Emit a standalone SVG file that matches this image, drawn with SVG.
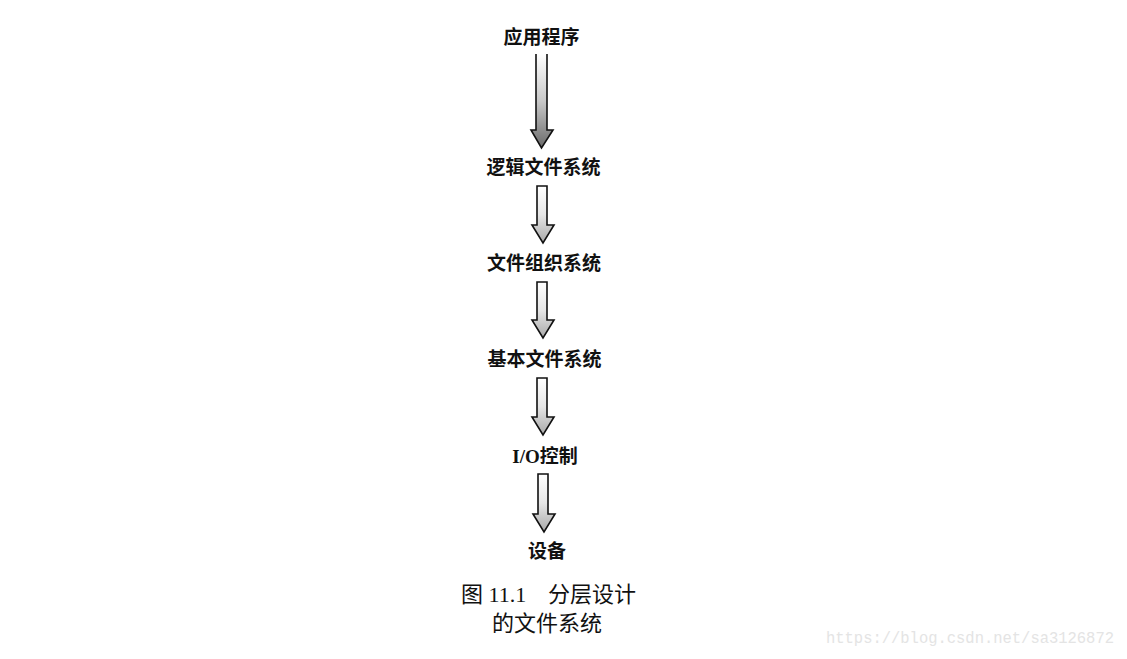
<svg xmlns="http://www.w3.org/2000/svg" width="1127" height="659" viewBox="0 0 1127 659">
  <defs>
    <linearGradient id="g1" x1="0" y1="0" x2="0" y2="1">
      <stop offset="0" stop-color="#ffffff"/>
      <stop offset="0.5" stop-color="#c8c8c8"/>
      <stop offset="1" stop-color="#6a6a6a"/>
    </linearGradient>
    <linearGradient id="g2" x1="0" y1="0" x2="0" y2="1">
      <stop offset="0" stop-color="#ffffff"/>
      <stop offset="0.5" stop-color="#e6e6e6"/>
      <stop offset="1" stop-color="#a8a8a8"/>
    </linearGradient>
    <style>
      .lbl { font-family: "Liberation Serif", "Noto Sans CJK SC", serif; font-size: 19px; font-weight: bold; fill: #111; text-anchor: middle; }
      .cap { font-family: "Liberation Serif", "Noto Sans CJK SC", serif; font-size: 22px; fill: #111; }
      .arr { stroke: #111; stroke-width: 1.6; stroke-linejoin: miter; }
      .wm { font-family: "Liberation Mono", monospace; font-size: 16px; fill: #e4e4e4; }
    </style>
  </defs>
  <rect width="1127" height="659" fill="#ffffff"/>

  <g id="connectors">
    <g id="arrow1">
      <path d="M536,54 V130 H531 L541.5,148 L553,130 H547 V54 Z" fill="url(#g1)" stroke="none"/>
      <path class="arr" fill="none" d="M536,54 V130 H531 L541.5,148 L553,130 H547 V54"/>
    </g>
    <path class="arr" fill="url(#g2)" d="M537,186 V225 H532 L543,243 L554,225 H547 V186 Z"/>
    <path class="arr" fill="url(#g2)" d="M537,282 V320 H532 L543,338 L554,320 H547 V282 Z"/>
    <path class="arr" fill="url(#g2)" d="M537,378 V417 H532 L543,435 L554,417 H547 V378 Z"/>
    <path class="arr" fill="url(#g2)" d="M538,474 V514 H533 L544,532 L555,514 H548 V474 Z"/>
  </g>

  <g id="n1"><text class="lbl" x="541.5" y="44">应用程序</text></g>
  <g id="n2"><text class="lbl" x="543.5" y="174">逻辑文件系统</text></g>
  <g id="n3"><text class="lbl" x="544" y="270">文件组织系统</text></g>
  <g id="n4"><text class="lbl" x="544.5" y="366">基本文件系统</text></g>
  <g id="n5"><text class="lbl" x="545" y="463">I/O控制</text></g>
  <g id="n6"><text class="lbl" x="547" y="558">设备</text></g>

  <g id="caption">
    <text class="cap" x="461" y="602">图 11.1<tspan x="548">分层设计</tspan></text>
    <text class="cap" x="547" y="631" text-anchor="middle">的文件系统</text>
  </g>

  <text class="wm" x="826" y="643" textLength="288" lengthAdjust="spacingAndGlyphs">https://blog.csdn.net/sa3126872</text>
</svg>
